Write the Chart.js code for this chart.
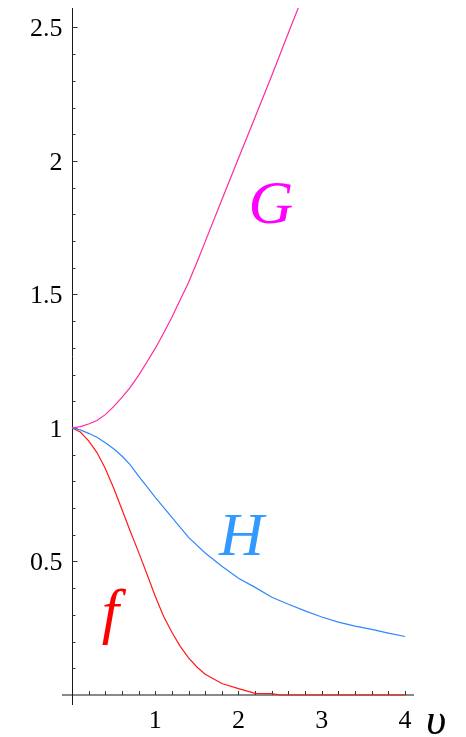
<!DOCTYPE html>
<html>
<head>
<meta charset="utf-8">
<script src="https://cdn.jsdelivr.net/npm/chart.js@4/dist/chart.umd.min.js"></script>
<style>
  html, body { margin: 0; padding: 0; background: #ffffff; }
  #wrap { width: 466px; height: 737px; position: relative; }
</style>
</head>
<body>
<div id="wrap"><canvas id="c"></canvas></div>
<script>
// Sample points (υ, value) for the three profiles
const uG = [0, 0.1, 0.2, 0.3, 0.4, 0.5, 0.6, 0.7, 0.8, 0.9, 1.0, 1.1, 1.2, 1.3, 1.4, 1.5, 1.6, 1.8, 2.0, 2.2, 2.4, 2.6, 2.72];
const G  = [1, 1.005, 1.015, 1.028, 1.05, 1.08, 1.115, 1.152, 1.197, 1.247, 1.298, 1.355, 1.415, 1.48, 1.545, 1.62, 1.698, 1.855, 2.01, 2.165, 2.32, 2.48, 2.575];

const uH = [0, 0.1, 0.2, 0.3, 0.4, 0.5, 0.6, 0.7, 0.8, 0.9, 1.0, 1.2, 1.4, 1.6, 1.8, 2.0, 2.2, 2.4, 2.6, 2.8, 3.0, 3.2, 3.4, 3.6, 3.8, 4.0];
const H  = [1, 0.993, 0.98, 0.965, 0.945, 0.922, 0.895, 0.862, 0.82, 0.78, 0.74, 0.665, 0.59, 0.532, 0.482, 0.437, 0.403, 0.366, 0.34, 0.315, 0.292, 0.273, 0.258, 0.246, 0.232, 0.219];

const uF = [0, 0.1, 0.2, 0.3, 0.4, 0.5, 0.6, 0.7, 0.8, 0.9, 1.0, 1.1, 1.2, 1.3, 1.4, 1.5, 1.6, 1.8, 2.0, 2.2, 2.4, 2.5, 3.0, 3.5, 4.0];
const F  = [1, 0.985, 0.952, 0.908, 0.848, 0.775, 0.695, 0.613, 0.535, 0.453, 0.37, 0.295, 0.235, 0.182, 0.139, 0.105, 0.078, 0.043, 0.024, 0.006, 0.005, 0, 0, 0, 0];

// Axis ticks
const xTickValues = [1, 2, 3, 4];
const xTickLabels = ['1', '2', '3', '4'];
const yTickValues = [0.5, 1, 1.5, 2, 2.5];
const yTickLabels = ['0.5', '1', '1.5', '2', '2.5'];
const xMinorStep = 0.2;
const yMinorStep = 0.1;

// Curve names, placed in data coordinates
const curveNames  = ['G', 'H', 'f'];
const curveNameAt = [[2.39, 1.768], [2.036, 0.524], [0.46, 0.236]];
const curveNameColors = ['#ff00ff', '#3399ff', '#ff0000'];

const SERIF = '"Liberation Serif", "Times New Roman", serif';

const toPoints = (xs, ys) => xs.map((x, i) => ({ x: x, y: ys[i] }));

const axesPlugin = {
  id: 'crossAxes',
  beforeDatasetsDraw(chart) {
    const { ctx, chartArea, scales: { x, y } } = chart;
    const x0 = Math.round(x.getPixelForValue(0)) + 0.5;
    const y0 = Math.round(y.getPixelForValue(0));
    ctx.save();
    // horizontal axis
    ctx.strokeStyle = '#8a8a8a';
    ctx.lineWidth = 2;
    ctx.beginPath();
    ctx.moveTo(chartArea.left, y0);
    ctx.lineTo(chartArea.right, y0);
    ctx.stroke();
    // vertical axis
    ctx.strokeStyle = '#1a1a1a';
    ctx.lineWidth = 1;
    ctx.beginPath();
    ctx.moveTo(x0, chartArea.top);
    ctx.lineTo(x0, chartArea.bottom);
    ctx.stroke();
    // inward tick marks
    ctx.strokeStyle = '#333333';
    ctx.lineWidth = 1;
    ctx.beginPath();
    for (let k = 1; k * xMinorStep <= 4.0001; k++) {
      const px = Math.round(x.getPixelForValue(k * xMinorStep)) + 0.5;
      ctx.moveTo(px, y0);
      ctx.lineTo(px, y0 - 4);
    }
    for (let k = 1; k * yMinorStep <= y.max; k++) {
      const v = k * yMinorStep;
      const py = Math.round(y.getPixelForValue(v)) + 0.5;
      const major = (k % 5 === 0);
      ctx.moveTo(x0, py);
      ctx.lineTo(x0 + (major ? 5 : 3), py);
    }
    ctx.stroke();
    // tick labels
    ctx.fillStyle = '#000000';
    ctx.font = '26px ' + SERIF;
    ctx.textBaseline = 'alphabetic';
    ctx.textAlign = 'center';
    xTickValues.forEach((v, i) => {
      ctx.fillText(xTickLabels[i], x.getPixelForValue(v), y0 + 33);
    });
    ctx.textAlign = 'right';
    yTickValues.forEach((v, i) => {
      ctx.fillText(yTickLabels[i], x0 - 10, y.getPixelForValue(v) + 9);
    });
    ctx.restore();
  },
  afterDatasetsDraw(chart) {
    const { ctx, chartArea, scales: { x, y } } = chart;
    ctx.save();
    ctx.textBaseline = 'alphabetic';
    // horizontal axis name
    ctx.fillStyle = '#000000';
    ctx.font = 'italic 44px ' + SERIF;
    ctx.textAlign = 'left';
    ctx.fillText('υ', chartArea.right + 12, y.getPixelForValue(0) + 39);
    // curve names
    ctx.font = 'italic 62px ' + SERIF;
    ctx.textAlign = 'center';
    curveNames.forEach((name, i) => {
      ctx.fillStyle = curveNameColors[i];
      ctx.fillText(name, x.getPixelForValue(curveNameAt[i][0]), y.getPixelForValue(curveNameAt[i][1]));
    });
    ctx.restore();
  }
};

new Chart(document.getElementById('c'), {
  type: 'line',
  data: {
    datasets: [
      { label: 'G', data: toPoints(uG, G), borderColor: '#ff2aa0', borderWidth: 1.2 },
      { label: 'H', data: toPoints(uH, H), borderColor: '#2f88ff', borderWidth: 1.2 },
      { label: 'f', data: toPoints(uF, F), borderColor: '#ff1a1a', borderWidth: 1.2 }
    ]
  },
  options: {
    responsive: true,
    maintainAspectRatio: false,
    animation: false,
    layout: { padding: { left: 62, right: 52, top: 8, bottom: 32 } },
    elements: { point: { radius: 0 }, line: { tension: 0 } },
    plugins: { legend: { display: false }, tooltip: { enabled: false } },
    scales: {
      x: { type: 'linear', min: -0.12, max: 4.108, display: false },
      y: { type: 'linear', min: -0.0375, max: 2.573, display: false }
    }
  },
  plugins: [axesPlugin]
});
</script>
</body>
</html>
